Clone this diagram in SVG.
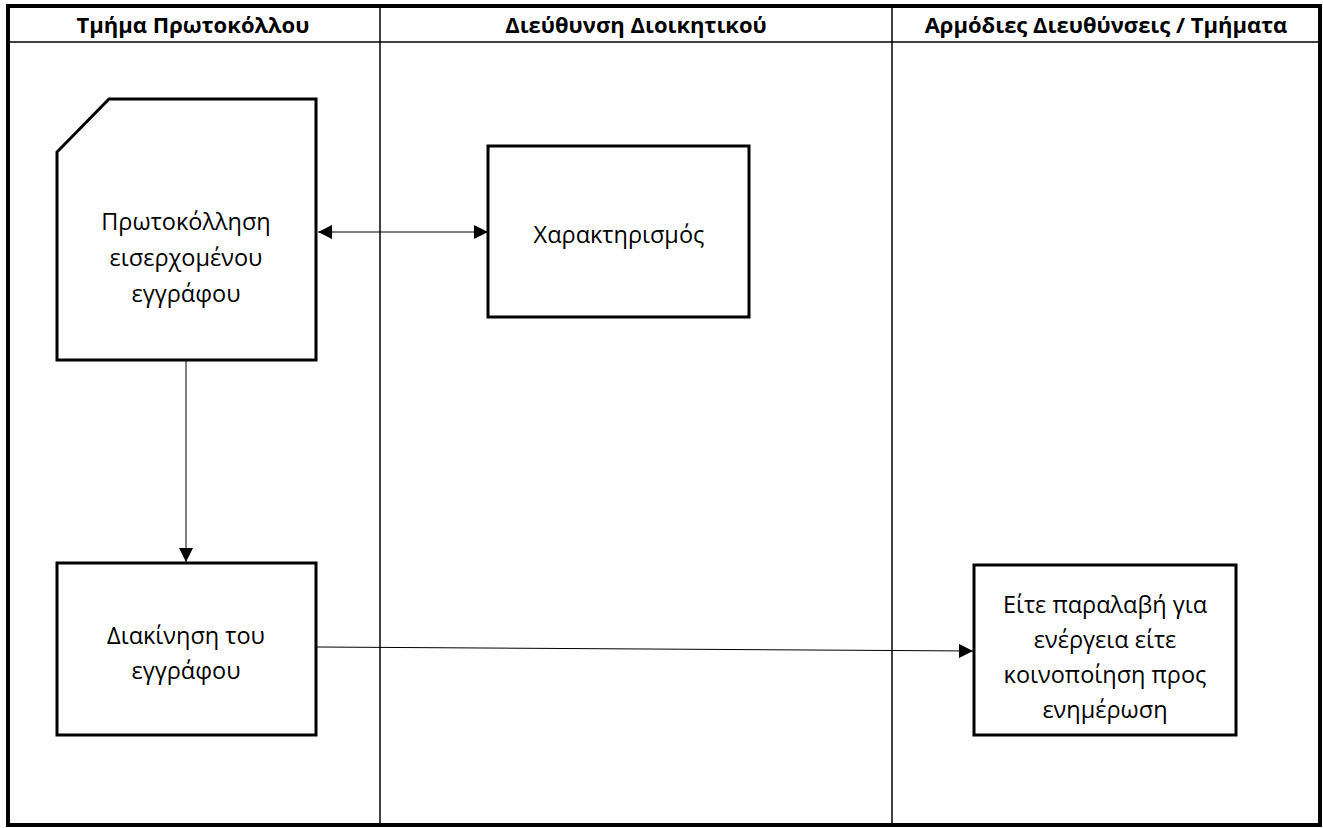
<svg xmlns="http://www.w3.org/2000/svg" width="1323" height="828" viewBox="0 0 1323 828">
<defs>
<style>
.frame{fill:none;stroke:#000;stroke-width:4}
.div{fill:none;stroke:#000;stroke-width:1.5}
.node{fill:#fff;stroke:#000;stroke-width:3}
.conn{fill:none;stroke:#000;stroke-width:1}
.hdr{font-family:"Open Sans","Noto Sans","DejaVu Sans",sans-serif;font-weight:bold;font-size:22px;text-anchor:middle;fill:#000}
.lbl{font-family:"Open Sans","Noto Sans","DejaVu Sans",sans-serif;font-size:23.5px;text-anchor:middle;fill:#000}
</style>
<marker id="ah" viewBox="0 0 10 10" refX="10" refY="5" markerWidth="14" markerHeight="14" markerUnits="userSpaceOnUse" orient="auto-start-reverse">
<path d="M0,0 L10,5 L0,10 Z" fill="#000"/>
</marker>
</defs>
<rect width="1323" height="828" fill="#fff"/>
<g id="lanes">
<rect class="frame" x="8" y="6" width="1312" height="819"/>
<line class="div" x1="8" y1="42" x2="1320" y2="42"/>
<line class="div" x1="380" y1="6" x2="380" y2="825"/>
<line class="div" x1="892" y1="6" x2="892" y2="825"/>
<text class="hdr" x="193" y="33">Τμήμα Πρωτοκόλλου</text>
<text class="hdr" x="636" y="33">Διεύθυνση Διοικητικού</text>
<text class="hdr" x="1106" y="33">Αρμόδιες Διευθύνσεις / Τμήματα</text>
</g>
<g id="connectors">
<line class="conn" x1="318" y1="232" x2="488" y2="232" marker-start="url(#ah)" marker-end="url(#ah)"/>
<line class="conn" x1="186" y1="361" x2="186" y2="562" marker-end="url(#ah)"/>
<line class="conn" x1="317" y1="647" x2="973" y2="651" marker-end="url(#ah)"/>
</g>
<g id="n1">
<path class="node" d="M109,99 L316,99 L316,360 L57,360 L57,152 Z"/>
<text class="lbl" x="186" y="230">Πρωτοκόλληση</text>
<text class="lbl" x="186" y="266">εισερχομένου</text>
<text class="lbl" x="186" y="302">εγγράφου</text>
</g>
<g id="n2">
<rect class="node" x="488" y="146" width="261" height="171"/>
<text class="lbl" x="619" y="243">Χαρακτηρισμός</text>
</g>
<g id="n3">
<rect class="node" x="57" y="563" width="259" height="172"/>
<text class="lbl" x="186" y="644">Διακίνηση του</text>
<text class="lbl" x="186" y="679">εγγράφου</text>
</g>
<g id="n4">
<rect class="node" x="974" y="565" width="262" height="170"/>
<text class="lbl" x="1105" y="613">Είτε παραλαβή για</text>
<text class="lbl" x="1105" y="648">ενέργεια είτε</text>
<text class="lbl" x="1105" y="683">κοινοποίηση προς</text>
<text class="lbl" x="1105" y="718">ενημέρωση</text>
</g>
</svg>
